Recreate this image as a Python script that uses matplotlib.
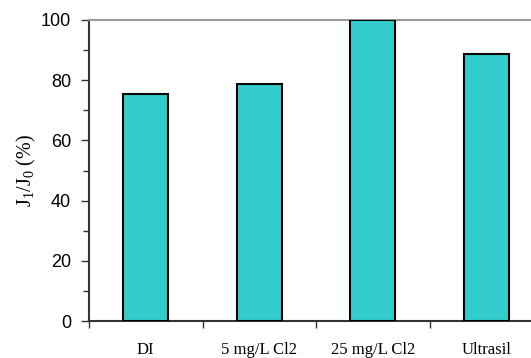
import matplotlib
matplotlib.use("Agg")
import matplotlib.pyplot as plt
import numpy as np

# flux ratio per cleaning agent
categories = ["DI", "5 mg/L Cl2", "25 mg/L Cl2", "Ultrasil"]
values = [75.5, 78.8, 100.0, 88.8]

fig = plt.figure(figsize=(5.31, 3.58), dpi=100)
ax = fig.add_axes([89 / 531, 37 / 358, 454 / 531, 301 / 358])

x = np.arange(len(categories))
ax.bar(x, values, width=0.4, color="#33CCCC", edgecolor="black", linewidth=1.5, zorder=3)

ax.set_xlim(-0.5, len(categories) - 0.5)
ax.set_ylim(0, 100)

# category boundaries get the ticks, names sit in the middle
ax.set_xticks(np.arange(len(categories) + 1) - 0.5)
ax.set_xticklabels([])
ax.set_xticks(x, minor=True)
ax.set_xticklabels(categories, minor=True, family="Liberation Serif", fontsize=12)
ax.tick_params(axis="x", which="major", direction="out", length=5, width=1, color="#333333")
ax.tick_params(axis="x", which="minor", length=0, pad=15)

ax.set_yticks(np.arange(0, 101, 20))
ax.set_yticks(np.arange(10, 100, 20), minor=True)
ax.tick_params(axis="y", which="major", direction="out", length=6, width=1, pad=7,
               labelsize=13, color="#333333")
ax.tick_params(axis="y", which="minor", direction="out", length=4, width=1, color="#333333")
for lab in ax.get_yticklabels():
    lab.set_family("Liberation Sans")

ax.set_ylabel(r"$\mathregular{J_1/J_0}$ (%)", family="Liberation Serif", fontsize=14.5, labelpad=2)

ax.spines["left"].set_linewidth(1.5)
ax.spines["left"].set_color("#333333")
ax.spines["bottom"].set_linewidth(1.5)
ax.spines["bottom"].set_color("#333333")
ax.spines["top"].set_color("#999999")
ax.spines["top"].set_linewidth(1.5)
ax.spines["right"].set_visible(False)

fig.savefig("out.png", dpi=100)
